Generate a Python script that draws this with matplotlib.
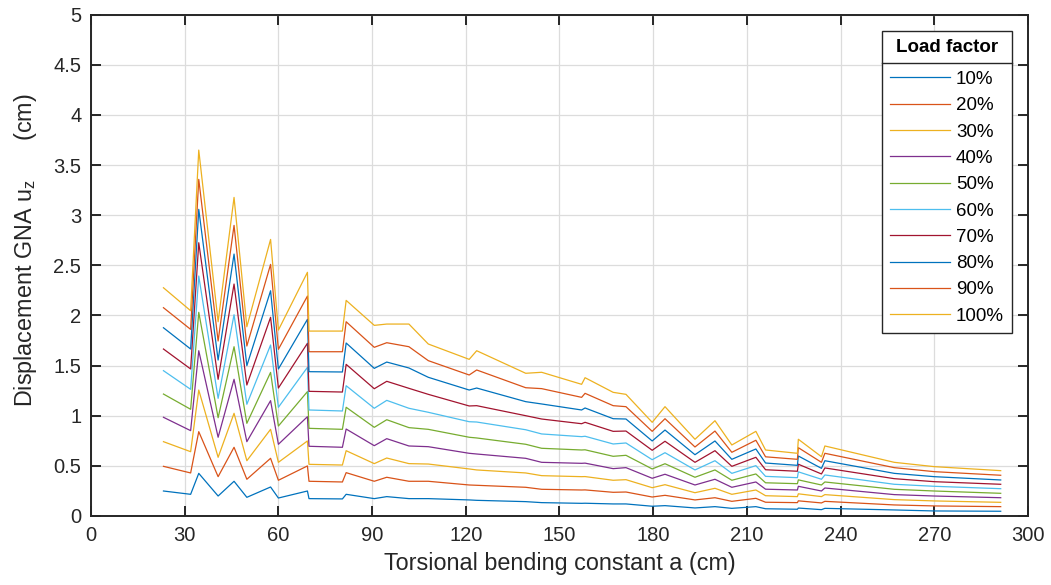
import matplotlib
matplotlib.use("Agg")
import matplotlib.pyplot as plt
from matplotlib.ticker import FuncFormatter
from matplotlib.lines import Line2D

plt.rcParams['font.family'] = ['Liberation Sans', 'DejaVu Sans']
plt.rcParams['mathtext.fontset'] = 'custom'
plt.rcParams['mathtext.rm'] = 'Liberation Sans'
plt.rcParams['mathtext.it'] = 'Liberation Sans:italic'

# Torsional bending constant a (cm)
a_cm = [23.2, 31.9, 34.5, 40.7, 45.8, 49.9, 57.5, 60.0, 69.3, 69.8,
        80.5, 81.7, 90.7, 94.7, 101.8, 108.0, 121.1, 123.5, 139.2, 144.3,
        157.1, 158.2, 167.2, 171.3, 179.7, 183.8, 193.4, 199.8, 205.2, 212.9,
        216.0, 226.2, 226.5, 233.9, 235.0, 257.2, 270.0, 291.3]

load_labels = ['10%', '20%', '30%', '40%', '50%', '60%', '70%', '80%', '90%', '100%']

# GNA displacement u_z (cm) for each load factor
uz_10 = [0.249, 0.216, 0.425, 0.199, 0.346, 0.186, 0.289, 0.179, 0.249, 0.173,
         0.170, 0.216, 0.173, 0.193, 0.173, 0.173, 0.160, 0.156, 0.143, 0.133,
         0.126, 0.127, 0.120, 0.120, 0.097, 0.103, 0.080, 0.093, 0.076, 0.093,
         0.072, 0.067, 0.079, 0.063, 0.076, 0.060, 0.050, 0.047]
uz_20 = [0.495, 0.429, 0.841, 0.392, 0.685, 0.366, 0.575, 0.356, 0.499, 0.346,
         0.339, 0.432, 0.346, 0.386, 0.346, 0.346, 0.309, 0.306, 0.286, 0.266,
         0.259, 0.260, 0.236, 0.239, 0.189, 0.206, 0.160, 0.182, 0.146, 0.176,
         0.137, 0.133, 0.151, 0.130, 0.146, 0.110, 0.100, 0.093]
uz_30 = [0.741, 0.641, 1.256, 0.585, 1.024, 0.551, 0.864, 0.535, 0.748, 0.515,
         0.508, 0.651, 0.522, 0.578, 0.522, 0.518, 0.469, 0.459, 0.429, 0.402,
         0.392, 0.393, 0.356, 0.362, 0.282, 0.312, 0.232, 0.276, 0.216, 0.259,
         0.202, 0.193, 0.221, 0.193, 0.213, 0.163, 0.150, 0.136]
uz_40 = [0.984, 0.851, 1.648, 0.785, 1.363, 0.741, 1.150, 0.715, 0.990, 0.695,
         0.685, 0.867, 0.701, 0.771, 0.698, 0.691, 0.625, 0.618, 0.575, 0.535,
         0.525, 0.527, 0.472, 0.482, 0.376, 0.416, 0.309, 0.366, 0.286, 0.339,
         0.267, 0.259, 0.296, 0.249, 0.279, 0.213, 0.199, 0.182]
uz_50 = [1.216, 1.064, 2.031, 0.980, 1.688, 0.924, 1.432, 0.897, 1.240, 0.874,
         0.864, 1.084, 0.884, 0.960, 0.881, 0.864, 0.785, 0.778, 0.715, 0.675,
         0.658, 0.660, 0.595, 0.605, 0.469, 0.521, 0.386, 0.459, 0.356, 0.419,
         0.331, 0.322, 0.360, 0.309, 0.339, 0.266, 0.249, 0.226]
uz_60 = [1.449, 1.263, 2.393, 1.173, 2.007, 1.114, 1.705, 1.084, 1.482, 1.057,
         1.047, 1.299, 1.074, 1.153, 1.074, 1.034, 0.940, 0.937, 0.860, 0.818,
         0.791, 0.795, 0.718, 0.728, 0.561, 0.631, 0.459, 0.551, 0.425, 0.502,
         0.395, 0.382, 0.440, 0.366, 0.409, 0.316, 0.296, 0.272]
uz_70 = [1.665, 1.466, 2.725, 1.363, 2.313, 1.306, 1.981, 1.276, 1.722, 1.243,
         1.236, 1.512, 1.269, 1.343, 1.273, 1.213, 1.097, 1.100, 1.000, 0.967,
         0.920, 0.934, 0.844, 0.847, 0.655, 0.745, 0.535, 0.651, 0.495, 0.585,
         0.461, 0.446, 0.516, 0.419, 0.479, 0.372, 0.342, 0.316]
uz_80 = [1.877, 1.665, 3.058, 1.555, 2.612, 1.499, 2.246, 1.466, 1.961, 1.439,
         1.436, 1.725, 1.472, 1.535, 1.476, 1.383, 1.256, 1.276, 1.140, 1.117,
         1.057, 1.077, 0.970, 0.967, 0.748, 0.857, 0.611, 0.748, 0.565, 0.668,
         0.528, 0.505, 0.598, 0.475, 0.551, 0.425, 0.392, 0.359]
uz_90 = [2.077, 1.861, 3.357, 1.745, 2.898, 1.695, 2.509, 1.662, 2.193, 1.638,
         1.638, 1.937, 1.682, 1.728, 1.688, 1.549, 1.406, 1.456, 1.279, 1.270,
         1.183, 1.223, 1.100, 1.090, 0.844, 0.970, 0.688, 0.847, 0.635, 0.755,
         0.590, 0.565, 0.681, 0.535, 0.625, 0.482, 0.442, 0.406]
uz_100 = [2.276, 2.047, 3.649, 1.937, 3.177, 1.887, 2.758, 1.854, 2.430, 1.844,
          1.844, 2.150, 1.901, 1.914, 1.914, 1.715, 1.562, 1.648, 1.423, 1.433,
          1.313, 1.379, 1.233, 1.213, 0.934, 1.090, 0.765, 0.950, 0.708, 0.844,
          0.658, 0.625, 0.765, 0.591, 0.698, 0.535, 0.492, 0.452]

series = [uz_10, uz_20, uz_30, uz_40, uz_50, uz_60, uz_70, uz_80, uz_90, uz_100]

palette = ['#0072BD', '#D95319', '#EDB120', '#7E2F8E', '#77AC30',
           '#4DBEEE', '#A2142F']
axis_gray = '#262626'

fig = plt.figure(figsize=(10.51, 5.85), dpi=100)
ax = fig.add_axes([0.0866, 0.118, 0.8914, 0.857])

for i, (vals, lab) in enumerate(zip(series, load_labels)):
    ax.plot(a_cm, vals, color=palette[i % len(palette)], lw=0.9, label=lab)

ax.set_xlim(0, 300)
ax.set_ylim(0, 5)
ax.set_xticks(range(0, 301, 30))
ax.set_yticks([i * 0.5 for i in range(11)])
ax.yaxis.set_major_formatter(FuncFormatter(lambda v, p: f'{v:g}'))

ax.grid(True, color='#dcdcdc', lw=0.9)
ax.set_axisbelow(True)
for s in ax.spines.values():
    s.set_color(axis_gray)
    s.set_linewidth(1.4)
ax.tick_params(direction='in', length=7, width=1.4, colors=axis_gray,
               top=True, right=True, labelsize=14.5)
ax.tick_params(axis='x', pad=7)
ax.tick_params(axis='y', pad=7)

ax.set_xlabel('Torsional bending constant a (cm)', fontsize=16.8,
              color=axis_gray, labelpad=5)
ax.set_ylabel(r'Displacement GNA u$_\mathrm{z}$      (cm)', fontsize=16.8,
              color=axis_gray)
ax.yaxis.set_label_coords(-0.056, 0.53)

leg = ax.legend(loc='upper right', bbox_to_anchor=(0.983, 0.968),
                borderaxespad=0, title='Load factor', fontsize=13.5,
                title_fontproperties={'weight': 'bold', 'size': 13.5},
                fancybox=False, framealpha=1, edgecolor=axis_gray,
                handlelength=3.25, handletextpad=0.3, labelspacing=0.49,
                borderpad=0.42)
leg.get_frame().set_linewidth(1.0)
leg._legend_box.sep = 11
for t in leg.get_texts():
    t.set_color('black')

# separator line between the legend title and its entries
fig.canvas.draw()
renderer = fig.canvas.get_renderer()
fb = leg.get_frame().get_window_extent(renderer)
tb = leg.get_title().get_window_extent(renderer)
eb = leg.get_texts()[0].get_window_extent(renderer)
y_sep = 0.5 * ((tb.y0 + tb.y1) / 2 + (eb.y0 + eb.y1) / 2)
inv = fig.transFigure.inverted()
(x0, ys), = inv.transform([(fb.x0, y_sep)])
(x1, _), = inv.transform([(fb.x1, y_sep)])
fig.add_artist(Line2D([x0, x1], [ys, ys], transform=fig.transFigure,
                      color=axis_gray, lw=1.0, zorder=10))

fig.savefig('out.png', dpi=100)
